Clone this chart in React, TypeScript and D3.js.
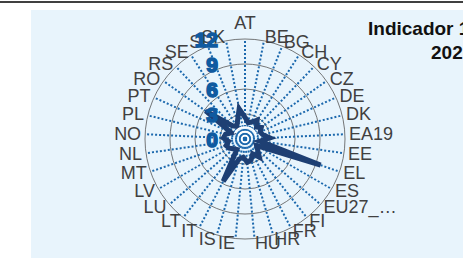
import * as d3 from "d3";

const countries = ["AT", "BE", "BG", "CH", "CY", "CZ", "DE", "DK", "EA19", "EE", "EL", "ES", "EU27_…", "FI", "FR", "HR", "HU", "IE", "IS", "IT", "LT", "LU", "LV", "MT", "NL", "NO", "PL", "PT", "RO", "RS", "SE", "SI", "SK"];
const values = [2.6, 2.0, 2.2, 2.7, 2.0, 2.4, 2.0, 2.2, 3.0, 1.8, 9.6, 1.6, 2.0, 2.8, 2.0, 2.6, 2.8, 2.2, 2.5, 5.7, 1.6, 1.8, 2.2, 2.4, 2.0, 2.6, 2.4, 1.8, 5.8, 2.2, 1.8, 2.4, 3.7];
const radialTicks = [0, 3, 6, 9, 12];
const titleLines = ["Indicador 1", "2021"];

const W = 463;
const H = 258;
const cx = 245;
const cy = 139;
const R = 100;
const font = "Liberation Sans, Arial, sans-serif";

const App = () => {
  const r = d3.scaleLinear().domain([0, 12]).range([0, R]);
  const ang = d3.scaleLinear().domain([0, countries.length]).range([0, 2 * Math.PI]);

  const line = d3
    .lineRadial<number>()
    .angle((d, i) => ang(i))
    .radius((d) => r(d))
    .curve(d3.curveLinearClosed);

  const arcGen = d3.arc();

  return (
    <svg width={W} height={H} style={{ position: "absolute", left: 0, top: 0, display: "block" }}>
      <line x1={0} x2={W} y1={2} y2={2} stroke="#000" strokeWidth={1.5} />
      <rect x={31} y={10} width={W - 31} height={H - 10} fill="#e8f4fc" />

      <g transform={`translate(${cx},${cy})`}>
        {radialTicks.slice(1).map((t) => (
          <circle key={t} r={r(t)} fill="none" stroke="#555" strokeWidth={0.8} />
        ))}
        {countries.map((c, i) => {
          const a = ang(i);
          return (
            <line
              key={c}
              x1={0}
              y1={0}
              x2={R * Math.sin(a)}
              y2={-R * Math.cos(a)}
              stroke="#1b68ad"
              strokeWidth={2}
              strokeDasharray="2,2"
            />
          );
        })}
        <path d={line(values) || ""} fill="none" stroke="#1e3f73" strokeWidth={5} strokeLinejoin="miter" />
        <circle r={3.5} fill="none" stroke="#fff" strokeWidth={1.5} />
        {[7.5, 12].map((rr) => (
          <path
            key={rr}
            d={arcGen({ innerRadius: rr - 0.7, outerRadius: rr + 0.7, startAngle: -1.1, endAngle: 1.3 }) || ""}
            fill="#fff"
          />
        ))}

        {countries.map((c, i) => {
          const a = ang(i);
          const s = Math.sin(a);
          const lr = 104;
          const x = lr * s;
          const y = -lr * Math.cos(a);
          const anchor = Math.abs(s) < 0.01 ? "middle" : s > 0 ? "start" : "end";
          const top = Math.abs(s) < 0.01;
          return (
            <text
              key={c}
              x={x}
              y={top ? y - 6 : y}
              textAnchor={anchor}
              dominantBaseline={top ? "auto" : "central"}
              fontFamily={font}
              fontSize={18}
              fill="#404040"
            >
              {c}
            </text>
          );
        })}

        {radialTicks.map((t) => (
          <text
            key={t}
            x={-27}
            y={-r(t)}
            textAnchor="end"
            dominantBaseline="central"
            fontFamily={font}
            fontSize={21}
            fontWeight="bold"
            fill="#0f5aa0"
            stroke="#0f5aa0"
            strokeWidth={1.6}
          >
            {t}
          </text>
        ))}
      </g>

      <text x={368} y={35} fontFamily={font} fontSize={19} fontWeight="bold" fill="#111">
        {titleLines[0]}
      </text>
      <text x={431} y={59} fontFamily={font} fontSize={19} fontWeight="bold" fill="#111">
        {titleLines[1]}
      </text>
    </svg>
  );
};

export default App;
